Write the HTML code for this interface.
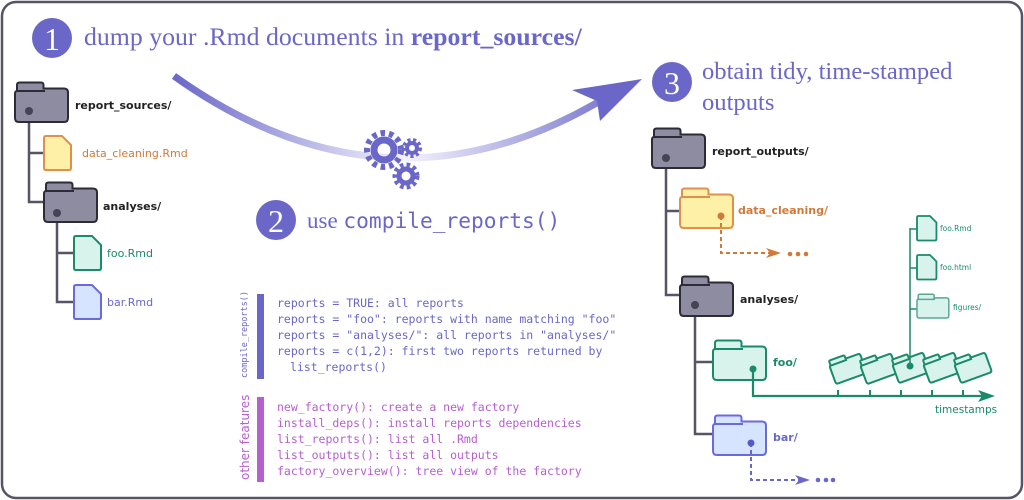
<!DOCTYPE html>
<html><head><meta charset="utf-8"><style>
html,body{margin:0;padding:0;background:#fff}
svg{display:block}
.sans{font-family:"DejaVu Sans","Liberation Sans",sans-serif}
.mono{font-family:"DejaVu Sans Mono","Liberation Mono",monospace}
.serif{font-family:"Liberation Serif",serif}
</style></head><body>
<svg width="1024" height="500" viewBox="0 0 1024 500" xmlns="http://www.w3.org/2000/svg">
<defs>
<path id="fold" d="M2,9 V3 Q2,0.5 4.5,0.5 H26 Q28.5,0.5 28.5,3 V6.5 H49 Q53,6.5 53,10.5 V36 Q53,40 49,40 H4 Q0,40 0,36 V12 Q0,9 2,9 Z M2,9 H30"/>
<path id="file" d="M0,2 Q0,0 2,0 H18 L27,9 V32 Q27,34 25,34 H2 Q0,34 0,32 Z"/>
<linearGradient id="ag" gradientUnits="userSpaceOnUse" x1="172" y1="0" x2="640" y2="0">
<stop offset="0" stop-color="#6a67c8"/><stop offset="0.5" stop-color="#f4f3fc"/><stop offset="1" stop-color="#6a67c8"/></linearGradient>
</defs>
<rect x="2" y="2" width="1020" height="496" rx="14" fill="#fff" stroke="#555566" stroke-width="2.5"/>

<!-- headers -->
<circle cx="52" cy="38" r="20" fill="#6a67c8"/>
<text x="52" y="50" text-anchor="middle" class="serif" font-size="32" fill="#fff">1</text>
<text x="84" y="45" class="serif" font-size="25.8" fill="#6a67c8">dump your .Rmd documents in <tspan font-weight="bold">report_sources/</tspan></text>
<circle cx="672" cy="82" r="20" fill="#6a67c8"/>
<text x="672" y="94" text-anchor="middle" class="serif" font-size="32" fill="#fff">3</text>
<text x="702" y="79" class="serif" font-size="24.6" fill="#6a67c8">obtain tidy, time-stamped</text>
<text x="702" y="110" class="serif" font-size="24.6" fill="#6a67c8">outputs</text>
<circle cx="276" cy="220" r="20" fill="#6a67c8"/>
<text x="276" y="232" text-anchor="middle" class="serif" font-size="32" fill="#fff">2</text>
<text x="307" y="228" font-size="23" fill="#6a67c8"><tspan class="serif">use </tspan><tspan class="mono" font-size="21.2">compile_reports()</tspan></text>

<!-- big arrow -->
<path d="M174,76 Q390,230 610,95" fill="none" stroke="url(#ag)" stroke-width="7"/>
<path d="M642,79 L572,90 L597,101 L600,121 Z" fill="#6a67c8"/>
<!-- gears -->
<g fill="#6a67c8">
<circle cx="384" cy="150" r="17" stroke="#6a67c8" stroke-width="6" stroke-dasharray="4.5 4" fill="none"/>
<circle cx="384" cy="150" r="10" stroke="#6a67c8" stroke-width="7" fill="none"/>
<circle cx="412" cy="148" r="8" stroke="#6a67c8" stroke-width="4" stroke-dasharray="3 2.5" fill="none"/>
<circle cx="412" cy="148" r="5" stroke="#6a67c8" stroke-width="4" fill="none"/>
<circle cx="406" cy="176" r="11" stroke="#6a67c8" stroke-width="5" stroke-dasharray="3.5 3" fill="none"/>
<circle cx="406" cy="176" r="7" stroke="#6a67c8" stroke-width="5" fill="none"/>
</g>

<!-- left tree -->
<g stroke="#555566" stroke-width="2.5" fill="none">
<path d="M29,111 V202 H44 M29,153 H44"/>
<path d="M57,213 V302 H74 M57,253 H74"/>
</g>
<g stroke="#2d2b38" stroke-width="2" fill="#8e8ca0">
<use href="#fold" x="15" y="82"/>
<use href="#fold" x="44" y="182"/>
</g>
<circle cx="29" cy="111" r="4" fill="#444455"/>
<circle cx="57" cy="213" r="4" fill="#444455"/>
<use href="#file" x="44" y="136" fill="#fff0a8" stroke="#e0904a" stroke-width="2"/>
<use href="#file" x="74" y="236" fill="#d8f3ec" stroke="#1a8a6a" stroke-width="2"/>
<use href="#file" x="74" y="285" fill="#d6e4ff" stroke="#6a6adc" stroke-width="2"/>
<g class="sans" font-size="11">
<text x="75" y="109" font-weight="bold" fill="#222">report_sources/</text>
<text x="82" y="157" fill="#d07a3a">data_cleaning.Rmd</text>
<text x="103" y="210" font-weight="bold" fill="#222">analyses/</text>
<text x="107" y="257" fill="#1a8a6a">foo.Rmd</text>
<text x="107" y="306" fill="#6a67c8">bar.Rmd</text>
</g>

<!-- code blocks -->
<rect x="257" y="294" width="7" height="85" fill="#6a67c8"/>
<rect x="257" y="397" width="7" height="85" fill="#b65fcf"/>
<text transform="translate(247,378) rotate(-90)" class="mono" font-size="8.5" fill="#6a67c8">compile_reports()</text>
<text transform="translate(249,480) rotate(-90)" class="sans" font-size="12" fill="#b65fcf">other features</text>
<g class="mono" font-size="11.5" fill="#6a67c8">
<text x="277" y="307">reports = TRUE: all reports</text>
<text x="277" y="323">reports = "foo": reports with name matching "foo"</text>
<text x="277" y="339">reports = "analyses/": all reports in "analyses/"</text>
<text x="277" y="355">reports = c(1,2): first two reports returned by</text>
<text x="290" y="371">list_reports()</text>
</g>
<g class="mono" font-size="11.5" fill="#b65fcf">
<text x="277" y="411">new_factory(): create a new factory</text>
<text x="277" y="427">install_deps(): install reports dependencies</text>
<text x="277" y="443">list_reports(): list all .Rmd</text>
<text x="277" y="459">list_outputs(): list all outputs</text>
<text x="277" y="475">factory_overview(): tree view of the factory</text>
</g>

<!-- right tree -->
<g stroke="#555566" stroke-width="2.5" fill="none">
<path d="M666,158 V295 H681 M666,211 H681"/>
<path d="M695,305 V434 H714 M695,362 H714"/>
</g>
<g stroke="#2d2b38" stroke-width="2" fill="#8e8ca0">
<use href="#fold" x="652" y="128"/>
<use href="#fold" x="680" y="276"/>
</g>
<use href="#fold" x="680" y="188" fill="#fff0a8" stroke="#e0904a" stroke-width="2"/>
<use href="#fold" x="713" y="340" fill="#d8f3ec" stroke="#1a8a6a" stroke-width="2"/>
<use href="#fold" x="713" y="415" fill="#d6e4ff" stroke="#6a6adc" stroke-width="2"/>
<circle cx="666" cy="158" r="4" fill="#444455"/>
<circle cx="695" cy="305" r="4" fill="#444455"/>
<!-- orange dashed -->
<path d="M721,216 V253 H772" fill="none" stroke="#d07a3a" stroke-width="2" stroke-dasharray="4 3"/>
<path d="M781,253 L766,248 L770,253 L766,258 Z" fill="#d07a3a"/>
<g fill="#d07a3a"><circle cx="790" cy="254" r="2.3"/><circle cx="798" cy="254" r="2.3"/><circle cx="806" cy="254" r="2.3"/></g>
<circle cx="721" cy="216" r="3.5" fill="#d07a3a"/>
<!-- bar dashed -->
<path d="M751,443 V480 H800" fill="none" stroke="#6a67c8" stroke-width="2" stroke-dasharray="4 3"/>
<path d="M810,480 L795,475 L799,480 L795,485 Z" fill="#6a67c8"/>
<g fill="#6a67c8"><circle cx="818" cy="480" r="2.3"/><circle cx="826" cy="480" r="2.3"/><circle cx="833" cy="480" r="2.3"/></g>
<circle cx="751" cy="443" r="3.5" fill="#5a57c8"/>
<!-- timeline -->
<path d="M753,369 V396 H985" fill="none" stroke="#1a8a6a" stroke-width="2.2"/>
<path d="M995,396 L978,390 L982,396 L978,402 Z" fill="#1a8a6a"/>
<g stroke="#1a8a6a" stroke-width="2"><path d="M838,390V396 M870,390V396 M901,390V396 M932,390V396 M963,390V396"/></g>
<circle cx="753" cy="369" r="3.5" fill="#1a8a6a"/>
<g fill="#d8f3ec" stroke="#1a8a6a" stroke-width="3.2">
<use href="#fold" transform="translate(847,367) rotate(-20) scale(0.62) translate(-26,-20)"/>
<use href="#fold" transform="translate(878,367) rotate(-20) scale(0.62) translate(-26,-20)"/>
<use href="#fold" transform="translate(910,366) rotate(-20) scale(0.62) translate(-26,-20)"/>
<use href="#fold" transform="translate(941,366) rotate(-20) scale(0.62) translate(-26,-20)"/>
<use href="#fold" transform="translate(972,366) rotate(-20) scale(0.62) translate(-26,-20)"/>
</g>
<path d="M910,366 V228 M910,229 H918 M910,268 H918 M910,309 H918" fill="none" stroke="#1a8a6a" stroke-width="1.5"/>
<circle cx="910" cy="366" r="3.5" fill="#1a8a6a"/>
<g fill="#d8f3ec" stroke="#1a8a6a" stroke-width="2.5">
<use href="#file" transform="translate(917,216) scale(0.72)"/>
<use href="#file" transform="translate(917,255) scale(0.72)"/>
</g>
<use href="#fold" transform="translate(917,294) scale(0.6)" fill="#d8f3ec" stroke="#5aa890" stroke-width="2.5"/>
<g class="sans">
<text x="712" y="155" font-size="11" font-weight="bold" fill="#222">report_outputs/</text>
<text x="738" y="214" font-size="11" font-weight="bold" fill="#d07a3a">data_cleaning/</text>
<text x="740" y="303" font-size="11" font-weight="bold" fill="#222">analyses/</text>
<text x="773" y="366" font-size="11" font-weight="bold" fill="#1a8a6a">foo/</text>
<text x="773" y="441" font-size="11" font-weight="bold" fill="#6a67c8">bar/</text>
<text x="940" y="231" font-size="7.5" fill="#1a8a6a">foo.Rmd</text>
<text x="940" y="270" font-size="7.5" fill="#1a8a6a">foo.html</text>
<text x="953" y="310" font-size="7.5" fill="#1a8a6a">figures/</text>
<text x="935" y="413" font-size="10.5" fill="#1a8a6a">timestamps</text>
</g>
</svg>
</body></html>
